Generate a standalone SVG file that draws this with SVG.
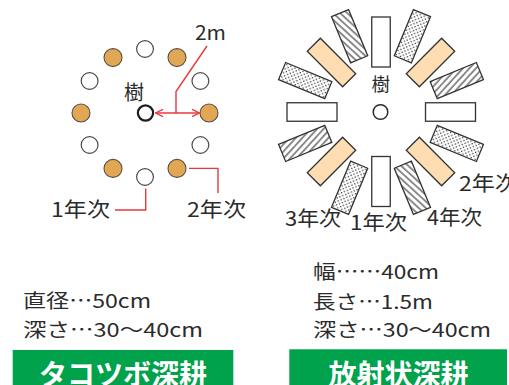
<svg xmlns="http://www.w3.org/2000/svg" width="509" height="385" viewBox="0 0 509 385">
<style>
text{font-family:"Noto Sans CJK JP","Noto Sans",sans-serif;fill:#2b2b2b}
.w{fill:#fff;stroke:#4a4a4a;stroke-width:1.2}
.o{fill:#E2A753;stroke:#5a5046;stroke-width:1.1}
.tree{fill:#fff;stroke:#1e1e1e;stroke-width:2.2}
.tree2{fill:#fff;stroke:#2b2b2b;stroke-width:1.5}
.red{fill:none;stroke:#E8383D;stroke-width:1.4}
.r{stroke:#333;stroke-width:1.3}
.rw{fill:#fff}
.ro{fill:#FDDDB1}
.rd{fill:url(#dots)}
.rh{fill:url(#hatch)}
.lab{font-size:20px}
.info{font-size:19px}
.head{font-size:28px;font-weight:bold;fill:#fff;text-anchor:middle}
.green{fill:#00A24B}
</style>
<defs>
<pattern id="dots" width="4.4" height="4.4" patternUnits="userSpaceOnUse">
<rect width="4.4" height="4.4" fill="#fff"/>
<circle cx="1.1" cy="1.1" r="0.75" fill="#333"/>
<circle cx="3.3" cy="3.3" r="0.75" fill="#333"/>
</pattern>
<pattern id="hatch" width="4.8" height="4.8" patternUnits="userSpaceOnUse" patternTransform="rotate(-25)">
<rect width="4.8" height="4.8" fill="#fff"/>
<line x1="1" y1="0" x2="1" y2="4.8" stroke="#333" stroke-width="1.1"/>
</pattern>
<marker id="ah" viewBox="0 0 10 10" refX="9.3" refY="5" markerUnits="userSpaceOnUse" markerWidth="9" markerHeight="10" orient="auto-start-reverse">
<path d="M1,1 L9.3,5 L1,9" fill="none" stroke="#E8383D" stroke-width="1.4"/>
</marker>
<rect id="bar" x="-9.25" y="-25" width="18.5" height="50"/>
</defs>

<!-- Left diagram: takotsubo -->
<g id="tree-left"><circle class="tree" cx="145.5" cy="113" r="7.6"/><text x="124" y="99.5" style="font-size:20px">樹</text></g>
<g id="c0"><circle class="w" cx="145" cy="49" r="8.4"/></g>
<g id="c1"><circle class="o" cx="177" cy="57.6" r="9"/></g>
<g id="c2"><circle class="w" cx="200.4" cy="81" r="8.4"/></g>
<g id="c3"><circle class="o" cx="209" cy="113" r="9"/></g>
<g id="c4"><circle class="w" cx="200.4" cy="145" r="8.4"/></g>
<g id="c5"><circle class="o" cx="177" cy="168.4" r="9"/></g>
<g id="c6"><circle class="w" cx="145" cy="177" r="8.4"/></g>
<g id="c7"><circle class="o" cx="113" cy="168.4" r="9"/></g>
<g id="c8"><circle class="w" cx="89.6" cy="145" r="8.4"/></g>
<g id="c9"><circle class="o" cx="81" cy="113" r="9"/></g>
<g id="c10"><circle class="w" cx="89.6" cy="81" r="8.4"/></g>
<g id="c11"><circle class="o" cx="113" cy="57.6" r="9"/></g>

<g id="connectors">
<line class="red" x1="155.5" y1="113" x2="199.5" y2="113" marker-start="url(#ah)" marker-end="url(#ah)"/>
<polyline class="red" points="176,113 176,91.5 207,46"/>
<polyline class="red" points="115,210 145.7,210 145.7,188.5"/>
<polyline class="red" points="189,168.4 218,168.4 218,193"/>
</g>

<g id="label-2m"><text class="lab" x="195" y="40" textLength="31" lengthAdjust="spacingAndGlyphs">2m</text></g>
<g id="label-1y-left"><text class="lab" x="51" y="216.5" textLength="59" lengthAdjust="spacingAndGlyphs">1年次</text></g>
<g id="label-2y-left"><text class="lab" x="187" y="216.5" textLength="59" lengthAdjust="spacingAndGlyphs">2年次</text></g>

<!-- Right diagram: radial -->
<g id="tree-right"><circle class="tree2" cx="380.5" cy="112" r="7.3"/><text x="371.5" y="91" style="font-size:18.5px">樹</text></g>
<g id="b0"><use href="#bar" class="r rw" transform="translate(381,42)"/></g>
<g id="b1"><use href="#bar" class="r rd" transform="translate(412.4,36.2) rotate(22.5)"/></g>
<g id="b2"><use href="#bar" class="r ro" transform="translate(430.5,62.5) rotate(45)"/></g>
<g id="b3"><use href="#bar" class="r rh" transform="translate(456.8,80.6) rotate(67.5)"/></g>
<g id="b4"><use href="#bar" class="r rw" transform="translate(450.5,112) rotate(90)"/></g>
<g id="b5"><use href="#bar" class="r rd" transform="translate(456.8,143.4) rotate(112.5)"/></g>
<g id="b6"><use href="#bar" class="r ro" transform="translate(430.5,161.5) rotate(135)"/></g>
<g id="b7"><use href="#bar" class="r rh" transform="translate(412.4,187.8) rotate(157.5)"/></g>
<g id="b8"><use href="#bar" class="r rw" transform="translate(381,181.5) rotate(180)"/></g>
<g id="b9"><use href="#bar" class="r rd" transform="translate(349.6,187.8) rotate(202.5)"/></g>
<g id="b10"><use href="#bar" class="r ro" transform="translate(331.5,161.5) rotate(225)"/></g>
<g id="b11"><use href="#bar" class="r rh" transform="translate(305.2,143.4) rotate(247.5)"/></g>
<g id="b12"><use href="#bar" class="r rw" transform="translate(312,112) rotate(270)"/></g>
<g id="b13"><use href="#bar" class="r rd" transform="translate(305.2,80.6) rotate(292.5)"/></g>
<g id="b14"><use href="#bar" class="r ro" transform="translate(331.5,62.5) rotate(315)"/></g>
<g id="b15"><use href="#bar" class="r rh" transform="translate(349.6,36.2) rotate(337.5)"/></g>

<g id="label-2y-right"><text class="lab" x="459" y="190.5" textLength="59" lengthAdjust="spacingAndGlyphs">2年次</text></g>
<g id="label-3y"><text class="lab" x="285" y="225.5" textLength="56" lengthAdjust="spacingAndGlyphs">3年次</text></g>
<g id="label-1y-right"><text class="lab" x="350" y="229.5" textLength="57" lengthAdjust="spacingAndGlyphs">1年次</text></g>
<g id="label-4y"><text class="lab" x="427" y="225" textLength="55" lengthAdjust="spacingAndGlyphs">4年次</text></g>

<!-- Specs -->
<g id="spec-left">
<text class="info" x="23" y="307.5" textLength="128" lengthAdjust="spacingAndGlyphs">直径…50cm</text>
<text class="info" x="23" y="337" textLength="180" lengthAdjust="spacingAndGlyphs">深さ…30〜40cm</text>
</g>
<g id="spec-right">
<text class="info" x="313" y="279" textLength="126" lengthAdjust="spacingAndGlyphs">幅……40cm</text>
<text class="info" x="313" y="308.5" textLength="120" lengthAdjust="spacingAndGlyphs">長さ…1.5m</text>
<text class="info" x="313" y="337" textLength="178" lengthAdjust="spacingAndGlyphs">深さ…30〜40cm</text>
</g>

<g id="title-left"><rect class="green" x="12.7" y="350" width="220.6" height="35"/><text class="head" x="123" y="385">タコツボ深耕</text></g>
<g id="title-right"><rect class="green" x="289.3" y="349.3" width="217.7" height="35.7"/><text class="head" x="398.5" y="385">放射状深耕</text></g>
</svg>
